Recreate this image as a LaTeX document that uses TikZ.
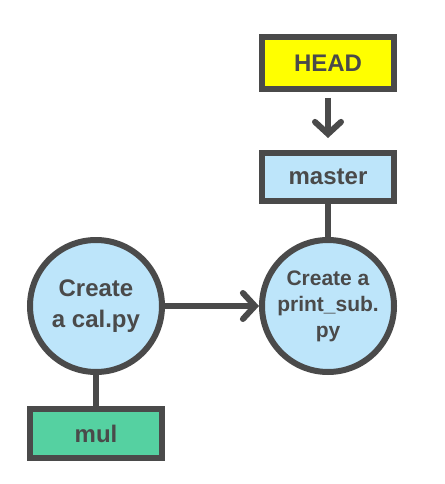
\documentclass[tikz,border=0pt]{standalone}
\usepackage{fontspec}
\setmainfont{Liberation Sans}
\usetikzlibrary{arrows.meta}

\definecolor{edge}{HTML}{4A4A4A}
\definecolor{headfill}{HTML}{FFFF00}
\definecolor{commitfill}{HTML}{BDE5FA}
\definecolor{branchfill}{HTML}{55D1A1}

\begin{document}
\begin{tikzpicture}[x=1pt,y=-1pt,
  every node/.style={text=edge,font=\bfseries},
  ref/.style={draw=edge,line width=6pt,minimum width=132pt,inner sep=0pt,font=\fontsize{24}{28}\bfseries},
  commit/.style={circle,draw=edge,fill=commitfill,line width=6pt,minimum size=132pt,inner sep=0pt,align=center},
  link/.style={draw=edge,line width=6pt},
  tip/.style={-{Straight Barb[length=12pt,width=26pt,line cap=round]}}]

\useasboundingbox (0,0) rectangle (444,484);

% commits
\node[commit,font=\fontsize{24}{31}\bfseries] (cal) at (96,306) {Create\\a cal.py};
\node[commit,font=\fontsize{21}{26}\bfseries] (sub) at (328,306) {Create a\\print\_sub.\\py};

% refs
\node[ref,fill=headfill,minimum height=52pt] (head) at (328,63) {HEAD};
\node[ref,fill=commitfill,minimum height=48pt] (master) at (328,177) {master};
\node[ref,fill=branchfill,minimum height=49pt] (mul) at (96,433.5) {mul};

% links
\draw[link] (master) -- (sub);
\draw[link] (cal) -- (mul);
\draw[link,tip] ([yshift=-6pt]head.south) -- ([yshift=12pt]master.north);
\draw[link,tip] (cal) -- (sub);

\end{tikzpicture}
\end{document}
